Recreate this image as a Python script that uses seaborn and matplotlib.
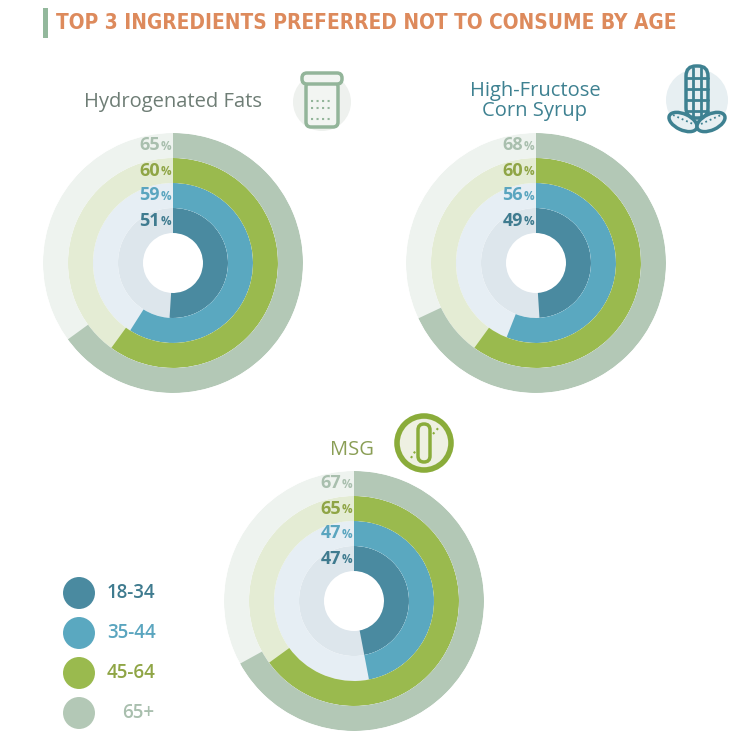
import numpy as np
import matplotlib.pyplot as plt
import matplotlib.patches as mpatches
import seaborn as sns

# data
ingredients = ["Hydrogenated Fats", "High-Fructose\nCorn Syrup", "MSG"]
age_groups = ["18-34", "35-44", "45-64", "65+"]
hydrogenated_fats = [51, 59, 60, 65]
corn_syrup = [49, 56, 60, 68]
msg = [47, 47, 65, 67]

ring_colors = ["#4a8aa0", "#5aa8c0", "#9aba4e", "#b3c8b6"]
track_colors = ["#dde6ec", "#e6eef4", "#e4ecd4", "#eef3ef"]
label_colors = ["#3f7b8f", "#5aa5bf", "#8fa545", "#a9bfae"]

sns.set_theme(style="white")
plt.rcParams['font.family'] = ['Open Sans', 'DejaVu Sans']

W, H = 747, 743
fig = plt.figure(figsize=(W / 100, H / 100), dpi=100)
bg = fig.add_axes([0, 0, 1, 1])
bg.set_xlim(0, W)
bg.set_ylim(H, 0)
bg.axis('off')


def radial(cx, cy, values, R=130):
    ax = fig.add_axes([(cx - R) / W, 1 - (cy + R) / H, 2 * R / W, 2 * R / H],
                      projection='polar')
    ax.set_theta_zero_location('N')
    ax.set_theta_direction(-1)
    for i, v in enumerate(values):
        ax.bar(0, 1, width=2 * np.pi, bottom=i - 0.5, align='edge',
               color=track_colors[i], linewidth=0)
        ax.bar(0, 1, width=v / 100 * 2 * np.pi, bottom=i - 0.5, align='edge',
               color=ring_colors[i], linewidth=0)
        ax.annotate("%", xy=(0, i), xytext=(-1.5, -1), textcoords='offset points',
                    ha='right', va='center', fontsize=8.5, fontweight='bold',
                    color=label_colors[i])
        ax.annotate(str(v), xy=(0, i), xytext=(-9.5, 0), textcoords='offset points',
                    ha='right', va='center', fontsize=13, fontweight='bold',
                    color=label_colors[i])
    ax.set_ylim(-1.7, 3.5)
    ax.axis('off')
    return ax


radial(173, 263, hydrogenated_fats)
radial(536, 263, corn_syrup)
radial(354, 601, msg)

# title, fitted to the width of the reference headline
bg.add_patch(mpatches.Rectangle((43, 8), 5, 30, color="#93b89c", lw=0))
title = bg.text(56, 23, "TOP 3 INGREDIENTS PREFERRED NOT TO CONSUME BY AGE",
                ha='left', va='center', fontsize=17, fontweight='bold',
                color="#dd8a5c", family=['DejaVu Sans'], fontstretch='condensed')
fig.canvas.draw()
tw = title.get_window_extent().width
title.set_fontsize(17 * 619 / tw)

# chart titles
bg.text(173, 102, ingredients[0], ha='center', va='center', fontsize=14.5,
        color="#6e7d75")
bg.text(535, 101, ingredients[1], ha='center', va='center', fontsize=14.5,
        color="#3e8191", linespacing=1.0)
bg.text(352, 450, ingredients[2], ha='center', va='center', fontsize=14.5,
        color="#8a9e55")

# icon: jar
bg.add_patch(mpatches.Circle((322, 102), 29, color="#eef1ee", lw=0))
bg.add_patch(mpatches.FancyBboxPatch((306, 82), 32, 45, boxstyle="round,pad=0,rounding_size=5",
                                     fc="#f2f5f2", ec="#93b59a", lw=2.5))
bg.add_patch(mpatches.FancyBboxPatch((302, 73), 40, 11, boxstyle="round,pad=0,rounding_size=5",
                                     fc="#f2f5f2", ec="#93b59a", lw=2.5))
for yy in (101, 108, 119):
    bg.plot([311, 333], [yy, yy], ls=':', color="#93b59a", lw=1.5)

# icon: corn
bg.add_patch(mpatches.Circle((697, 100), 31, color="#e7eff2", lw=0))
corn = "#3e8191"
bg.add_patch(mpatches.FancyBboxPatch((686, 66), 22, 52, boxstyle="round,pad=0,rounding_size=10",
                                     fc="#e7eff2", ec=corn, lw=2.5))
for xx in (693, 701):
    bg.plot([xx, xx], [68, 118], color=corn, lw=2)
for yy in (78, 89, 100, 111):
    bg.plot([686, 708], [yy, yy], color=corn, lw=2)
bg.add_patch(mpatches.Ellipse((683, 122), 30, 16, angle=25, fc="#e7eff2", ec=corn, lw=2.5))
bg.add_patch(mpatches.Ellipse((711, 122), 30, 16, angle=-25, fc="#e7eff2", ec=corn, lw=2.5))
bg.plot([673, 693], [115, 124], ls=':', color=corn, lw=1.3)
bg.plot([701, 721], [124, 115], ls=':', color=corn, lw=1.3)

# icon: test tube
bg.add_patch(mpatches.Circle((424, 443), 27, fc="#eef0e2", ec="#8aac3a", lw=4))
bg.add_patch(mpatches.FancyBboxPatch((418, 424), 12, 38, boxstyle="round,pad=0,rounding_size=6",
                                     fc="none", ec="#8aac3a", lw=2.5))
bg.plot([411, 416], [458, 450], ls=':', color="#8aac3a", lw=1.5)
bg.plot([433, 440], [434, 426], ls=':', color="#8aac3a", lw=1.5)

# legend
ly = [593, 633, 673, 713]
sns.scatterplot(x=[79] * 4, y=ly, hue=age_groups, palette=ring_colors, s=530,
                linewidth=0, legend=False, ax=bg)
bg.set_xlim(0, W)
bg.set_ylim(H, 0)
bg.axis('off')
for g, y, c in zip(age_groups, ly, label_colors):
    x = 122 if g == "65+" else 107
    bg.text(x, y, g, ha='left', va='center', fontsize=13.5, fontweight='semibold', color=c)

fig.savefig("out.png", dpi=100)
